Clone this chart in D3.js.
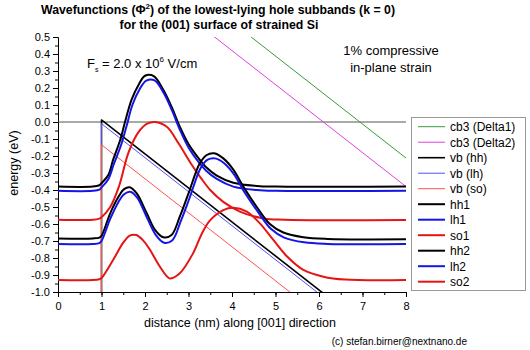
<!DOCTYPE html>
<html>
<head>
<meta charset="utf-8">
<script src="https://cdn.jsdelivr.net/npm/d3@7"></script>
<style>
  body { margin: 0; background: #fff; }
  svg { font-family: "Liberation Sans", Arial, sans-serif; }
  .axis text { font-size: 11px; fill: #000; }
  .axis path, .axis line { stroke: #000; }
</style>
</head>
<body>
<svg width="530" height="350"></svg>
<script>
// band edges (x in nm, energy in eV)
const cbDelta1 = [[1, 1.188], [8, -0.212]];
const cbDelta2 = [[1, 1.02], [8, -0.38]];
const vbHH = [[0, -1.5], [1, -1.5], [1, 0.012], [8, -1.388]];
const vbLH = [[0, -1.5], [1, -1.5], [1, -0.01], [8, -1.41]];
const vbSO = [[0, -1.5], [1, -1.5], [1, -0.134], [8, -1.534]];

// wavefunctions, drawn at their eigen energies
const hh1 = [[0,-0.38],[0.8,-0.38],[0.95,-0.372],[1.0,-0.36],[1.16,-0.31],[1.27,-0.22],[1.43,-0.106],[1.54,0.0],[1.69,0.13],[1.85,0.218],[2.0,0.272],[2.2,0.27],[2.42,0.19],[2.61,0.09],[2.8,-0.028],[3.0,-0.13],[3.22,-0.21],[3.4,-0.265],[3.65,-0.315],[4.03,-0.357],[4.57,-0.376],[5.0,-0.38],[8,-0.38]];
const lh1 = [[0,-0.405],[0.8,-0.405],[0.95,-0.398],[1.0,-0.385],[1.16,-0.335],[1.28,-0.25],[1.45,-0.135],[1.57,-0.03],[1.71,0.1],[1.87,0.19],[2.03,0.243],[2.22,0.245],[2.43,0.17],[2.62,0.068],[2.81,-0.05],[3.0,-0.15],[3.22,-0.232],[3.4,-0.285],[3.65,-0.335],[4.03,-0.38],[4.57,-0.4],[5.0,-0.405],[8,-0.405]];
const so1 = [[0,-0.575],[0.8,-0.575],[0.95,-0.568],[1.0,-0.56],[1.2,-0.5],[1.4,-0.38],[1.62,-0.18],[1.85,-0.06],[2.05,-0.01],[2.23,0.0],[2.5,-0.028],[2.77,-0.125],[3.07,-0.25],[3.3,-0.335],[3.5,-0.4],[3.8,-0.47],[4.18,-0.527],[4.72,-0.567],[5.2,-0.575],[8,-0.576]];
const hh2 = [[0,-0.685],[0.8,-0.685],[0.95,-0.68],[1.0,-0.67],[1.2,-0.537],[1.39,-0.44],[1.52,-0.395],[1.65,-0.384],[1.81,-0.42],[2.04,-0.537],[2.23,-0.635],[2.42,-0.678],[2.61,-0.665],[2.8,-0.557],[3.0,-0.42],[3.26,-0.243],[3.42,-0.194],[3.59,-0.184],[3.8,-0.214],[4.03,-0.28],[4.26,-0.38],[4.57,-0.5],[4.87,-0.6],[5.18,-0.65],[5.64,-0.678],[6.2,-0.688],[8,-0.69]];
const lh2 = [[0,-0.718],[0.8,-0.718],[0.95,-0.712],[1.0,-0.70],[1.2,-0.57],[1.39,-0.47],[1.52,-0.425],[1.66,-0.41],[1.82,-0.445],[2.05,-0.565],[2.25,-0.665],[2.44,-0.71],[2.63,-0.695],[2.82,-0.585],[3.02,-0.45],[3.28,-0.27],[3.44,-0.222],[3.61,-0.214],[3.82,-0.243],[4.05,-0.31],[4.28,-0.41],[4.6,-0.53],[4.9,-0.63],[5.2,-0.68],[5.66,-0.708],[6.2,-0.717],[8,-0.718]];
const so2 = [[0,-0.93],[0.8,-0.93],[0.95,-0.925],[1.0,-0.918],[1.27,-0.81],[1.5,-0.71],[1.65,-0.668],[1.8,-0.665],[1.95,-0.695],[2.11,-0.75],[2.34,-0.85],[2.57,-0.92],[2.8,-0.89],[3.11,-0.77],[3.3,-0.66],[3.49,-0.58],[3.8,-0.518],[4.03,-0.504],[4.34,-0.527],[4.64,-0.596],[4.95,-0.694],[5.26,-0.79],[5.64,-0.87],[6.1,-0.91],[6.6,-0.927],[8,-0.93]];

const xTicks = [0, 1, 2, 3, 4, 5, 6, 7, 8];
const yTicks = [0.5, 0.4, 0.3, 0.2, 0.1, 0.0, -0.1, -0.2, -0.3, -0.4, -0.5, -0.6, -0.7, -0.8, -0.9, -1.0];

const series = [
  {name: "cb3 (Delta1)", data: cbDelta1, color: "#3a9a3a", w: 1, smooth: false},
  {name: "cb3 (Delta2)", data: cbDelta2, color: "#e040e0", w: 1, smooth: false},
  {name: "vb (hh)", data: vbHH, color: "#000000", w: 1.6, smooth: false},
  {name: "vb (lh)", data: vbLH, color: "#5050ff", w: 1, smooth: false},
  {name: "vb (so)", data: vbSO, color: "#ff5050", w: 1, smooth: false},
  {name: "hh1", data: hh1, color: "#000000", w: 2, smooth: true},
  {name: "lh1", data: lh1, color: "#1515e6", w: 2, smooth: true},
  {name: "so1", data: so1, color: "#e61515", w: 2, smooth: true},
  {name: "hh2", data: hh2, color: "#000000", w: 2, smooth: true},
  {name: "lh2", data: lh2, color: "#1515e6", w: 2, smooth: true},
  {name: "so2", data: so2, color: "#e61515", w: 2, smooth: true}
];

const svg = d3.select("svg");
const plotLeft = 58, plotRight = 406, plotTop = 37, plotBottom = 292;

const x = d3.scaleLinear().domain([0, 8]).range([plotLeft, plotRight]);
const y = d3.scaleLinear().domain([-1.0, 0.5]).range([plotBottom, plotTop]);

svg.append("clipPath").attr("id", "plot")
  .append("rect")
  .attr("x", plotLeft).attr("y", plotTop)
  .attr("width", plotRight - plotLeft).attr("height", plotBottom - plotTop);

// minor ticks
svg.append("g").attr("class", "axis")
  .attr("transform", `translate(${plotLeft},0)`)
  .call(d3.axisLeft(y).tickValues(d3.range(-1.0, 0.5001, 0.05)).tickSize(3).tickFormat("").tickSizeOuter(0));
svg.append("g").attr("class", "axis")
  .attr("transform", `translate(0,${plotBottom})`)
  .call(d3.axisBottom(x).tickValues(d3.range(0, 8.001, 0.5)).tickSize(3).tickFormat("").tickSizeOuter(0));

// major ticks
svg.append("g").attr("class", "axis")
  .attr("transform", `translate(${plotLeft},0)`)
  .call(d3.axisLeft(y).tickValues(yTicks).tickSize(5).tickPadding(3).tickSizeOuter(0))
  .selectAll("text").text(d => d3.format(".1f")(d).replace("−", "-"));
svg.append("g").attr("class", "axis")
  .attr("transform", `translate(0,${plotBottom})`)
  .call(d3.axisBottom(x).tickValues(xTicks).tickSize(5).tickPadding(5).tickSizeOuter(0));

// zero reference line
svg.append("line")
  .attr("x1", x(0)).attr("x2", x(8))
  .attr("y1", y(0)).attr("y2", y(0))
  .attr("stroke", "#555").attr("stroke-width", 1);

const plot = svg.append("g").attr("clip-path", "url(#plot)");
const lineStraight = d3.line().x(d => x(d[0])).y(d => y(d[1]));
const lineSmooth = d3.line().x(d => x(d[0])).y(d => y(d[1])).curve(d3.curveCatmullRom.alpha(0.5));

plot.selectAll("path.series")
  .data(series)
  .enter()
  .append("path")
  .attr("class", "series")
  .attr("fill", "none")
  .attr("stroke", d => d.color)
  .attr("stroke-width", d => d.w)
  .attr("stroke-linejoin", "round")
  .attr("d", d => (d.smooth ? lineSmooth : lineStraight)(d.data));

// legend
const lg = svg.append("g");
lg.append("rect")
  .attr("x", 411.5).attr("y", 117.5)
  .attr("width", 114).attr("height", 173)
  .attr("fill", "#fff").attr("stroke", "#999").attr("stroke-width", 1);
const items = lg.selectAll("g.item")
  .data(series)
  .enter()
  .append("g")
  .attr("transform", (d, i) => `translate(0,${126.7 + i * 15.5})`);
items.append("line")
  .attr("x1", 418).attr("x2", 445)
  .attr("stroke", d => d.color)
  .attr("stroke-width", d => d.w);
items.append("text")
  .attr("x", 450).attr("y", 4.5)
  .attr("font-size", "12px")
  .text(d => d.name);

// titles
const title = svg.append("text")
  .attr("x", 218).attr("y", 14)
  .attr("text-anchor", "middle")
  .attr("font-size", "12.3px").attr("font-weight", "bold");
title.append("tspan").text("Wavefunctions (Φ");
title.append("tspan").attr("font-size", "8px").attr("dy", -5).text("2");
title.append("tspan").attr("dy", 5).text(") of the lowest-lying hole subbands (k = 0)");

svg.append("text")
  .attr("x", 219).attr("y", 29)
  .attr("text-anchor", "middle")
  .attr("font-size", "12.3px").attr("font-weight", "bold")
  .text("for the (001) surface of strained Si");

svg.append("text")
  .attr("transform", "translate(18,163) rotate(-90)")
  .attr("text-anchor", "middle")
  .attr("font-size", "12.5px")
  .text("energy (eV)");

svg.append("text")
  .attr("x", 240).attr("y", 327)
  .attr("text-anchor", "middle")
  .attr("font-size", "12.5px")
  .text("distance (nm) along [001] direction");

svg.append("text")
  .attr("x", 467).attr("y", 345)
  .attr("text-anchor", "end")
  .attr("font-size", "10px")
  .text("(c) stefan.birner@nextnano.de");

// field annotation
const fs = svg.append("text")
  .attr("x", 87).attr("y", 68)
  .attr("font-size", "13px");
fs.append("tspan").text("F");
fs.append("tspan").attr("font-size", "7px").attr("dy", 4).text("s");
fs.append("tspan").attr("dy", -4).text(" = 2.0 x 10");
fs.append("tspan").attr("font-size", "8px").attr("dy", -6).text("6");
fs.append("tspan").attr("dy", 6).text(" V/cm");

svg.append("text")
  .attr("x", 391).attr("y", 55)
  .attr("text-anchor", "middle")
  .attr("font-size", "13px")
  .text("1% compressive");
svg.append("text")
  .attr("x", 391).attr("y", 72)
  .attr("text-anchor", "middle")
  .attr("font-size", "13px")
  .text("in-plane strain");
</script>
</body>
</html>
